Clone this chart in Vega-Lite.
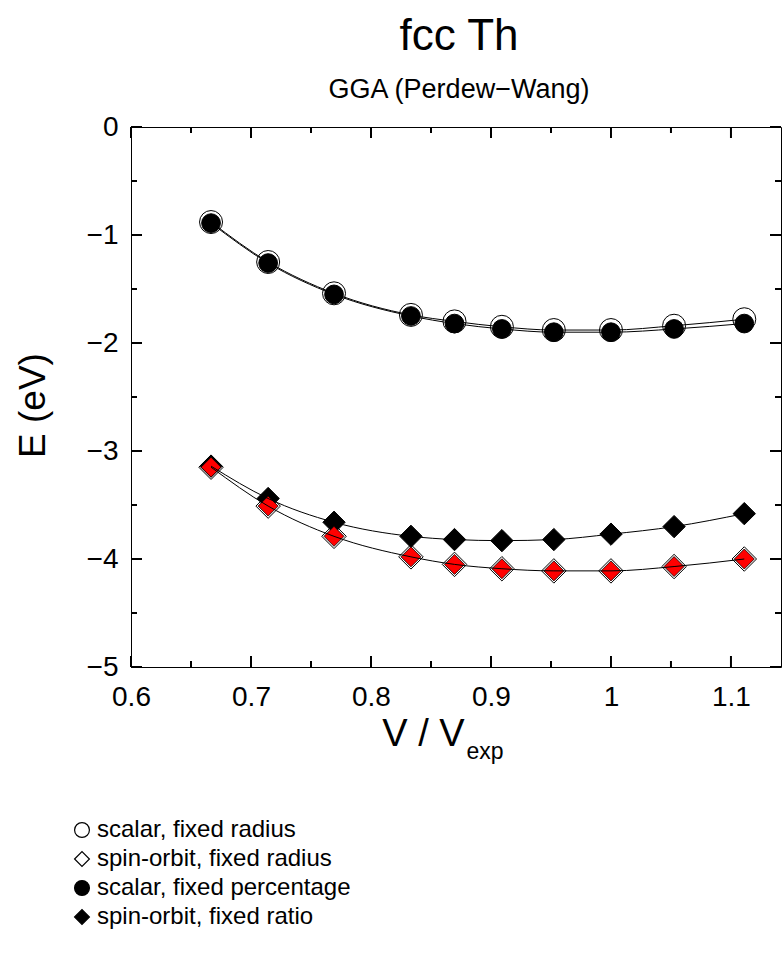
{
  "$schema": "https://vega.github.io/schema/vega-lite/v6.json",
  "autosize": {"type": "none"},
  "width": 650,
  "height": 540,
  "padding": {"left": 131, "top": 127, "right": 2, "bottom": 296},
  "background": "white",
  "title": {
    "text": "fcc Th",
    "subtitle": "GGA (Perdew−Wang)",
    "frame": "group",
    "anchor": "middle",
    "dx": 3,
    "fontSize": 44,
    "subtitleFontSize": 27,
    "font": "Liberation Sans",
    "subtitleFont": "Liberation Sans",
    "fontWeight": "normal",
    "color": "black",
    "subtitleColor": "black",
    "offset": 10,
    "subtitlePadding": 18
  },
  "config": {
    "view": {"stroke": "black", "strokeWidth": 1},
    "font": "Liberation Sans",
    "axis": {
      "domain": false,
      "grid": false,
      "ticks": false,
      "tickSize": 0,
      "labelColor": "black",
      "titleColor": "black",
      "labelFont": "Liberation Sans",
      "titleFont": "Liberation Sans",
      "titleFontWeight": "normal"
    }
  },
  "datasets": {
    "points": [
      {"x": 0.6667, "E": -0.88, "series": "scalar, fixed radius"},
      {"x": 0.7143, "E": -1.25, "series": "scalar, fixed radius"},
      {"x": 0.7692, "E": -1.54, "series": "scalar, fixed radius"},
      {"x": 0.8333, "E": -1.74, "series": "scalar, fixed radius"},
      {"x": 0.8696, "E": -1.80, "series": "scalar, fixed radius"},
      {"x": 0.9091, "E": -1.85, "series": "scalar, fixed radius"},
      {"x": 0.9524, "E": -1.88, "series": "scalar, fixed radius"},
      {"x": 1.0, "E": -1.88, "series": "scalar, fixed radius"},
      {"x": 1.0526, "E": -1.84, "series": "scalar, fixed radius"},
      {"x": 1.1111, "E": -1.78, "series": "scalar, fixed radius"},
      {"x": 0.6667, "E": -3.15, "series": "spin-orbit, fixed radius"},
      {"x": 0.7143, "E": -3.51, "series": "spin-orbit, fixed radius"},
      {"x": 0.7692, "E": -3.79, "series": "spin-orbit, fixed radius"},
      {"x": 0.8333, "E": -3.98, "series": "spin-orbit, fixed radius"},
      {"x": 0.8696, "E": -4.05, "series": "spin-orbit, fixed radius"},
      {"x": 0.9091, "E": -4.09, "series": "spin-orbit, fixed radius"},
      {"x": 0.9524, "E": -4.11, "series": "spin-orbit, fixed radius"},
      {"x": 1.0, "E": -4.11, "series": "spin-orbit, fixed radius"},
      {"x": 1.0526, "E": -4.07, "series": "spin-orbit, fixed radius"},
      {"x": 1.1111, "E": -4.00, "series": "spin-orbit, fixed radius"},
      {"x": 0.6667, "E": -0.89, "series": "scalar, fixed percentage"},
      {"x": 0.7143, "E": -1.26, "series": "scalar, fixed percentage"},
      {"x": 0.7692, "E": -1.55, "series": "scalar, fixed percentage"},
      {"x": 0.8333, "E": -1.75, "series": "scalar, fixed percentage"},
      {"x": 0.8696, "E": -1.82, "series": "scalar, fixed percentage"},
      {"x": 0.9091, "E": -1.87, "series": "scalar, fixed percentage"},
      {"x": 0.9524, "E": -1.90, "series": "scalar, fixed percentage"},
      {"x": 1.0, "E": -1.90, "series": "scalar, fixed percentage"},
      {"x": 1.0526, "E": -1.87, "series": "scalar, fixed percentage"},
      {"x": 1.1111, "E": -1.82, "series": "scalar, fixed percentage"},
      {"x": 0.6667, "E": -3.14, "series": "spin-orbit, fixed ratio"},
      {"x": 0.7143, "E": -3.44, "series": "spin-orbit, fixed ratio"},
      {"x": 0.7692, "E": -3.66, "series": "spin-orbit, fixed ratio"},
      {"x": 0.8333, "E": -3.79, "series": "spin-orbit, fixed ratio"},
      {"x": 0.8696, "E": -3.82, "series": "spin-orbit, fixed ratio"},
      {"x": 0.9091, "E": -3.83, "series": "spin-orbit, fixed ratio"},
      {"x": 0.9524, "E": -3.82, "series": "spin-orbit, fixed ratio"},
      {"x": 1.0, "E": -3.77, "series": "spin-orbit, fixed ratio"},
      {"x": 1.0526, "E": -3.70, "series": "spin-orbit, fixed ratio"},
      {"x": 1.1111, "E": -3.58, "series": "spin-orbit, fixed ratio"}
    ],
    "xticks": [
      {"v": 0.6, "major": true}, {"v": 0.65, "major": false},
      {"v": 0.7, "major": true}, {"v": 0.75, "major": false},
      {"v": 0.8, "major": true}, {"v": 0.85, "major": false},
      {"v": 0.9, "major": true}, {"v": 0.95, "major": false},
      {"v": 1.0, "major": true}, {"v": 1.05, "major": false},
      {"v": 1.1, "major": true}
    ],
    "yticks": [
      {"v": -5, "major": true}, {"v": -4.5, "major": false},
      {"v": -4, "major": true}, {"v": -3.5, "major": false},
      {"v": -3, "major": true}, {"v": -2.5, "major": false},
      {"v": -2, "major": true}, {"v": -1.5, "major": false},
      {"v": -1, "major": true}, {"v": -0.5, "major": false},
      {"v": 0, "major": true}
    ]
  },
  "resolve": {"axis": {"x": "independent", "y": "independent"}},
  "layer": [
    {
      "data": {"name": "xticks"},
      "transform": [{"filter": "datum.major"}],
      "mark": {"type": "tick", "orient": "vertical", "color": "black", "thickness": 2, "size": 11, "yOffset": -5.5, "opacity": 1},
      "encoding": {
        "x": {"field": "v", "type": "quantitative", "scale": {"domain": [0.6, 1.1417], "nice": false, "zero": false}, "axis": null},
        "y": {"datum": -5, "type": "quantitative", "scale": {"domain": [-5, 0], "nice": false, "zero": false}, "axis": null}
      }
    },
    {
      "data": {"name": "xticks"},
      "transform": [{"filter": "!datum.major"}],
      "mark": {"type": "tick", "orient": "vertical", "color": "black", "thickness": 2, "size": 6, "yOffset": -3, "opacity": 1},
      "encoding": {
        "x": {"field": "v", "type": "quantitative", "axis": null},
        "y": {"datum": -5, "type": "quantitative", "axis": null}
      }
    },
    {
      "data": {"name": "xticks"},
      "transform": [{"filter": "datum.major"}],
      "mark": {"type": "tick", "orient": "vertical", "color": "black", "thickness": 2, "size": 11, "yOffset": 5.5, "opacity": 1},
      "encoding": {
        "x": {"field": "v", "type": "quantitative", "axis": null},
        "y": {"datum": 0, "type": "quantitative", "axis": null}
      }
    },
    {
      "data": {"name": "xticks"},
      "transform": [{"filter": "!datum.major"}],
      "mark": {"type": "tick", "orient": "vertical", "color": "black", "thickness": 2, "size": 6, "yOffset": 3, "opacity": 1},
      "encoding": {
        "x": {"field": "v", "type": "quantitative", "axis": null},
        "y": {"datum": 0, "type": "quantitative", "axis": null}
      }
    },
    {
      "data": {"name": "yticks"},
      "transform": [{"filter": "datum.major"}],
      "mark": {"type": "tick", "orient": "horizontal", "color": "black", "thickness": 2, "size": 11, "xOffset": 5.5, "opacity": 1},
      "encoding": {
        "y": {"field": "v", "type": "quantitative", "axis": null},
        "x": {"datum": 0.6, "type": "quantitative", "axis": null}
      }
    },
    {
      "data": {"name": "yticks"},
      "transform": [{"filter": "!datum.major"}],
      "mark": {"type": "tick", "orient": "horizontal", "color": "black", "thickness": 2, "size": 6, "xOffset": 3, "opacity": 1},
      "encoding": {
        "y": {"field": "v", "type": "quantitative", "axis": null},
        "x": {"datum": 0.6, "type": "quantitative", "axis": null}
      }
    },
    {
      "data": {"name": "yticks"},
      "transform": [{"filter": "datum.major"}],
      "mark": {"type": "tick", "orient": "horizontal", "color": "black", "thickness": 2, "size": 11, "xOffset": -5.5, "opacity": 1},
      "encoding": {
        "y": {"field": "v", "type": "quantitative", "axis": null},
        "x": {"datum": 1.1417, "type": "quantitative", "axis": null}
      }
    },
    {
      "data": {"name": "yticks"},
      "transform": [{"filter": "!datum.major"}],
      "mark": {"type": "tick", "orient": "horizontal", "color": "black", "thickness": 2, "size": 6, "xOffset": -3, "opacity": 1},
      "encoding": {
        "y": {"field": "v", "type": "quantitative", "axis": null},
        "x": {"datum": 1.1417, "type": "quantitative", "axis": null}
      }
    },
    {
      "data": {"name": "points"},
      "transform": [{"filter": "datum.series === 'scalar, fixed radius' || datum.series === 'scalar, fixed percentage'"}],
      "mark": {"type": "point", "filled": true, "strokeWidth": 1, "opacity": 1},
      "encoding": {
        "x": {
          "field": "x", "type": "quantitative",
          "axis": {
            "orient": "top",
            "values": [0.6],
            "labels": false,
            "title": "exp",
            "titleFontSize": 23,
            "titleAngle": 0,
            "titleX": 335,
            "titleY": 631,
            "titleAlign": "left",
            "titleBaseline": "alphabetic"
          }
        },
        "y": {"field": "E", "type": "quantitative", "axis": null},
        "shape": {
          "field": "series", "type": "nominal",
          "scale": {
            "domain": ["scalar, fixed radius", "spin-orbit, fixed radius", "scalar, fixed percentage", "spin-orbit, fixed ratio"],
            "range": ["circle", "diamond", "circle", "diamond"]
          },
          "legend": {
            "orient": "none", "legendX": -61, "legendY": 691, "title": null,
            "labelFontSize": 24, "labelFont": "Liberation Sans", "labelColor": "black",
            "symbolSize": 220, "symbolStrokeWidth": 1.2,
            "rowPadding": 5, "labelOffset": 3, "labelLimit": 0
          }
        },
        "fill": {
          "field": "series", "type": "nominal",
          "scale": {
            "domain": ["scalar, fixed radius", "spin-orbit, fixed radius", "scalar, fixed percentage", "spin-orbit, fixed ratio"],
            "range": ["white", "white", "black", "black"]
          },
          "legend": {
            "orient": "none", "legendX": -61, "legendY": 691, "title": null,
            "labelFontSize": 24, "labelFont": "Liberation Sans", "labelColor": "black",
            "symbolSize": 220, "symbolStrokeWidth": 1.2,
            "rowPadding": 5, "labelOffset": 3, "labelLimit": 0
          }
        },
        "stroke": {
          "field": "series", "type": "nominal",
          "scale": {
            "domain": ["scalar, fixed radius", "spin-orbit, fixed radius", "scalar, fixed percentage", "spin-orbit, fixed ratio"],
            "range": ["black", "black", "black", "black"]
          },
          "legend": {
            "orient": "none", "legendX": -61, "legendY": 691, "title": null,
            "labelFontSize": 24, "labelFont": "Liberation Sans", "labelColor": "black",
            "symbolSize": 220, "symbolStrokeWidth": 1.2,
            "rowPadding": 5, "labelOffset": 3, "labelLimit": 0
          }
        },
        "size": {
          "condition": {"test": "datum.series === 'scalar, fixed radius'", "value": 529},
          "value": 350
        }
      }
    },
    {
      "data": {"name": "points"},
      "transform": [{"filter": "datum.series === 'spin-orbit, fixed radius' || datum.series === 'spin-orbit, fixed ratio'"}],
      "mark": {"type": "point", "filled": true, "strokeWidth": 1, "opacity": 1},
      "encoding": {
        "x": {"field": "x", "type": "quantitative", "axis": null},
        "y": {"field": "E", "type": "quantitative", "axis": null},
        "shape": {"field": "series", "type": "nominal"},
        "fill": {"field": "series", "type": "nominal"},
        "stroke": {"field": "series", "type": "nominal"},
        "size": {
          "condition": {"test": "datum.series === 'spin-orbit, fixed radius'", "value": 600},
          "value": 500
        }
      }
    },
    {
      "data": {"name": "points"},
      "transform": [{"filter": "datum.series === 'spin-orbit, fixed radius'"}],
      "mark": {"type": "point", "shape": "diamond", "filled": true, "fill": "#ff0000", "stroke": "black", "strokeWidth": 0.8, "size": 400, "opacity": 1},
      "encoding": {
        "x": {"field": "x", "type": "quantitative", "axis": null},
        "y": {"field": "E", "type": "quantitative", "axis": null}
      }
    },
    {
      "data": {"name": "points"},
      "mark": {"type": "line", "color": "black", "strokeWidth": 1, "interpolate": "monotone"},
      "encoding": {
        "x": {
          "field": "x", "type": "quantitative",
          "axis": {
            "orient": "bottom",
            "values": [0.6, 0.7, 0.8, 0.9, 1, 1.1],
            "format": "~g",
            "labelPadding": 16,
            "labelFontSize": 28,
            "labelFlush": false,
            "labelOverlap": false,
            "title": "V / V",
            "titleFontSize": 38,
            "titleX": 292,
            "titleY": 78,
            "titleAlign": "center",
            "titleBaseline": "alphabetic"
          }
        },
        "y": {
          "field": "E", "type": "quantitative",
          "axis": {
            "orient": "left",
            "values": [-5, -4, -3, -2, -1, 0],
            "format": "~g",
            "labelPadding": 13,
            "labelFontSize": 28,
            "labelFlush": false,
            "labelOverlap": false,
            "title": "E (eV)",
            "titleFontSize": 37,
            "titleAngle": 270,
            "titleX": -87,
            "titleY": 278,
            "titleAlign": "center",
            "titleBaseline": "alphabetic"
          }
        },
        "detail": {"field": "series", "type": "nominal"}
      }
    }
  ]
}
